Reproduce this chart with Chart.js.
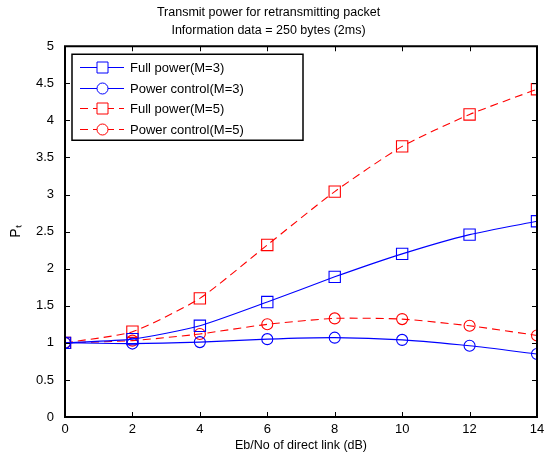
<!DOCTYPE html>
<html>
<head>
<meta charset="utf-8">
<script src="https://cdn.jsdelivr.net/npm/chart.js@4"></script>
<style>
  html, body { margin: 0; padding: 0; background: #fff; }
  #wrap { width: 554px; height: 456px; }
</style>
</head>
<body>
<div id="wrap"><canvas id="chart" width="554" height="456"></canvas></div>
<script>
// Eb/No 값 (dB)
const ebno = [0, 2, 4, 6, 8, 10, 12, 14];

// 각 곡선 값
const fullPowerM3 = [1.0, 1.05, 1.23, 1.55, 1.89, 2.20, 2.46, 2.64];
const powerCtrlM3 = [1.0, 0.99, 1.01, 1.05, 1.07, 1.04, 0.96, 0.85];
const fullPowerM5 = [1.0, 1.15, 1.60, 2.32, 3.04, 3.65, 4.08, 4.42];
const powerCtrlM5 = [1.0, 1.03, 1.12, 1.25, 1.33, 1.32, 1.23, 1.10];

const seriesLabels = ['Full power(M=3)', 'Power control(M=3)', 'Full power(M=5)', 'Power control(M=5)'];
const xTicks = [0, 2, 4, 6, 8, 10, 12, 14];

const FONT = 'Liberation Sans, Arial, Helvetica, sans-serif';

function pts(ys) {
  return ys.map((y, i) => ({ x: ebno[i], y: y }));
}

function makeSet(label, ys, color, style, dashed) {
  return {
    label: label,
    data: pts(ys),
    borderColor: color,
    backgroundColor: 'rgba(0,0,0,0)',
    borderWidth: 1.1,
    borderDash: dashed ? [8, 5] : [],
    pointStyle: style,
    pointRadius: style === 'rect' ? 8 : 5.5,
    pointBorderColor: color,
    pointBackgroundColor: 'rgba(0,0,0,0)',
    pointBorderWidth: 1.1,
    tension: 0.2
  };
}

// 상자 테두리 + 안쪽 눈금 + 범례
const matlabBox = {
  id: 'matlabBox',
  afterDraw(chart) {
    const ctx = chart.ctx;
    const a = chart.chartArea;
    const xs = chart.scales.x, ys = chart.scales.y;
    ctx.save();
    ctx.strokeStyle = '#000';
    ctx.lineWidth = 1;
    // 눈금
    ctx.beginPath();
    xs.ticks.forEach(t => {
      const px = Math.round(xs.getPixelForValue(t.value)) + 0.5;
      ctx.moveTo(px, a.bottom); ctx.lineTo(px, a.bottom - 5);
      ctx.moveTo(px, a.top); ctx.lineTo(px, a.top + 5);
    });
    ys.ticks.forEach(t => {
      const py = Math.round(ys.getPixelForValue(t.value)) + 0.5;
      ctx.moveTo(a.left, py); ctx.lineTo(a.left + 5, py);
      ctx.moveTo(a.right, py); ctx.lineTo(a.right - 5, py);
    });
    ctx.stroke();
    // 테두리
    ctx.lineWidth = 2;
    ctx.strokeRect(a.left, a.top, a.right - a.left, a.bottom - a.top);

    // 범례
    const lx = a.left + 7, ly = a.top + 8, lw = 231, lh = 86;
    ctx.lineWidth = 1.5;
    ctx.fillStyle = '#fff';
    ctx.fillRect(lx, ly, lw, lh);
    ctx.strokeRect(lx, ly, lw, lh);
    ctx.font = '13px ' + FONT;
    ctx.textBaseline = 'middle';
    chart.data.datasets.forEach((ds, i) => {
      const cy = Math.round(ly + 13 + i * 20.5) + 0.5;
      ctx.strokeStyle = ds.borderColor;
      ctx.lineWidth = 1;
      ctx.setLineDash(ds.borderDash);
      ctx.beginPath();
      ctx.moveTo(lx + 8, cy); ctx.lineTo(lx + 52, cy);
      ctx.stroke();
      ctx.setLineDash([]);
      ctx.beginPath();
      if (ds.pointStyle === 'rect') {
        ctx.rect(lx + 30.5 - 5.5, cy - 5.5, 11, 11);
      } else {
        ctx.arc(lx + 30.5, cy, 5.5, 0, Math.PI * 2);
      }
      ctx.fillStyle = '#fff';
      ctx.fill();
      ctx.stroke();
      ctx.fillStyle = '#000';
      ctx.fillText(ds.label, lx + 58, cy + 1);
    });
    ctx.restore();
  }
};

new Chart(document.getElementById('chart').getContext('2d'), {
  type: 'line',
  data: {
    datasets: [
      makeSet(seriesLabels[0], fullPowerM3, '#0000ff', 'rect', false),
      makeSet(seriesLabels[1], powerCtrlM3, '#0000ff', 'circle', false),
      makeSet(seriesLabels[2], fullPowerM5, '#ff0000', 'rect', true),
      makeSet(seriesLabels[3], powerCtrlM5, '#ff0000', 'circle', true)
    ]
  },
  options: {
    responsive: false,
    animation: false,
    layout: { padding: { left: 0, right: 17, top: 0, bottom: 3 } },
    plugins: {
      legend: { display: false },
      tooltip: { enabled: false },
      title: {
        display: true,
        text: ['Transmit power for retransmitting packet', 'Information data = 250 bytes (2ms)'],
        color: '#000',
        font: { family: FONT, size: 12.5, weight: 'normal', lineHeight: 1.45 },
        padding: { top: 3, bottom: 7 }
      }
    },
    scales: {
      x: {
        type: 'linear',
        min: 0,
        max: 14,
        afterBuildTicks: s => { s.ticks = xTicks.map(v => ({ value: v })); },
        afterFit: s => { s.height = 36; },
        grid: { display: false },
        border: { display: false },
        ticks: { color: '#000', font: { family: FONT, size: 13 }, padding: -3, maxRotation: 0 },
        title: {
          display: true,
          text: 'Eb/No of direct link (dB)',
          color: '#000',
          font: { family: FONT, size: 12.5 },
          padding: { top: 0, bottom: 0 }
        }
      },
      y: {
        min: 0,
        max: 5,
        afterFit: s => { s.width = 65; },
        grid: { display: false },
        border: { display: false },
        ticks: {
          stepSize: 0.5,
          color: '#000',
          font: { family: FONT, size: 13 },
          padding: 3,
          callback: v => String(v)
        },
        title: {
          display: true,
          text: 'Pₜ',
          color: '#000',
          font: { family: FONT, size: 14 },
          padding: { top: 8, bottom: 0 }
        }
      }
    }
  },
  plugins: [matlabBox]
});
</script>
</body>
</html>
